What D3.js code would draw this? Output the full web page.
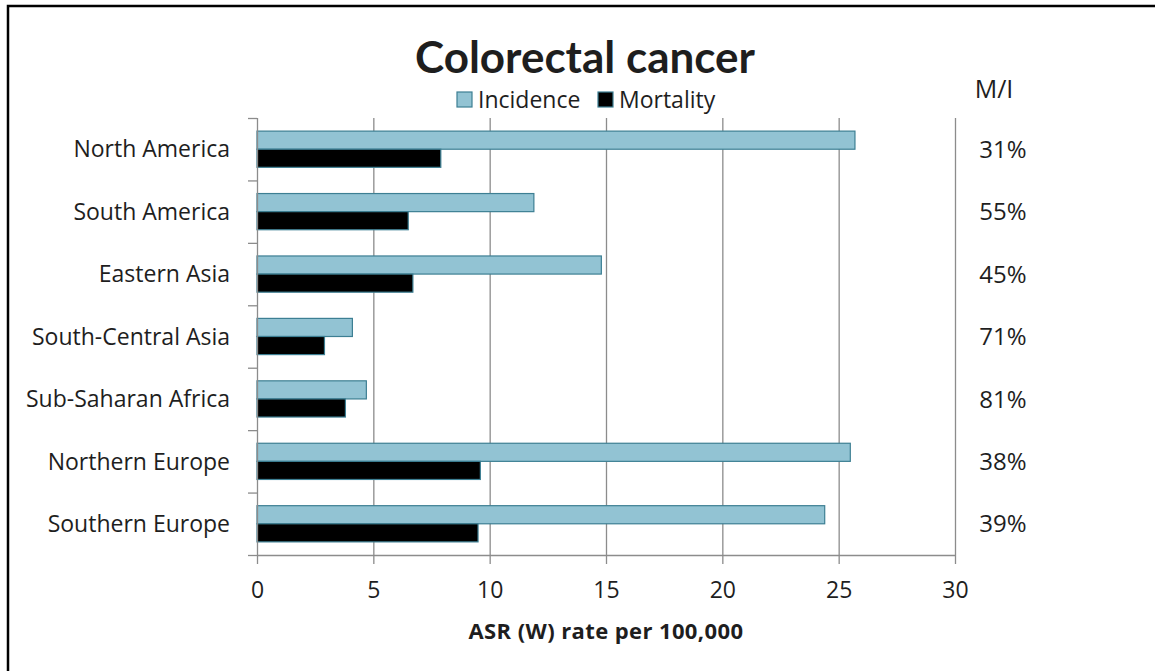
<!DOCTYPE html>
<html><head><meta charset="utf-8">
<script src="https://cdn.jsdelivr.net/npm/d3@7"></script>
<style>body{margin:0;background:#fff}svg{display:block}text{font-family:"Open Sans",Lato,sans-serif;fill:#1e1e1e}</style>
</head><body><svg id="c" width="1155" height="671"></svg>
<script>
const categories = ["North America","South America","Eastern Asia","South-Central Asia","Sub-Saharan Africa","Northern Europe","Southern Europe"];
const incidence = [25.7, 11.9, 14.8, 4.1, 4.7, 25.5, 24.4];
const mortality = [7.9, 6.5, 6.7, 2.9, 3.8, 9.6, 9.5];
const ratioLabels = ["31%","55%","45%","71%","81%","38%","39%"];
const xTicks = [0,5,10,15,20,25,30];
const seriesNames = ["Incidence","Mortality"];
const colors = ["#92c3d3","#000000"];

const svg = d3.select("#c");
const L = 257, R = 955, T = 118, B = 555;
const x = d3.scaleLinear().domain([0,30]).range([L,R]);
const y = d3.scaleBand().domain(categories).range([T,B]).paddingInner(0.42).paddingOuter(0.21);
const sub = d3.scaleBand().domain(seriesNames).range([0,y.bandwidth()]);

// border
svg.append("rect").attr("x",8).attr("y",6).attr("width",1170).attr("height",700)
  .attr("fill","none").attr("stroke","#000").attr("stroke-width",2.5);

// gridlines
svg.append("g").selectAll("line").data(xTicks.slice(1)).join("line")
  .attr("x1",d=>x(d)+0.5).attr("x2",d=>x(d)+0.5).attr("y1",T).attr("y2",B)
  .attr("stroke","#8c8c8c").attr("stroke-width",1.3);

// bars
const g = svg.append("g");
categories.forEach((c,i)=>{
  [incidence[i], mortality[i]].forEach((v,j)=>{
    g.append("rect").attr("x",x(0)).attr("y",y(c)+sub(seriesNames[j]))
      .attr("width",x(v)-x(0)).attr("height",sub.bandwidth())
      .attr("fill",colors[j]).attr("stroke","#3d7f93").attr("stroke-width",1.2);
  });
});

// x axis
const xa = svg.append("g").attr("transform",`translate(0,${B})`)
  .call(d3.axisBottom(x).tickValues(xTicks).tickSize(9).tickPadding(0));
xa.select(".domain").attr("stroke","#8c8c8c").attr("stroke-width",1.3).attr("d",`M${L},0.5H${R}`);
xa.selectAll(".tick line").attr("stroke","#8c8c8c").attr("stroke-width",1.3);
xa.selectAll(".tick text").attr("y",43).attr("dy",null).style("font-size","23px")
  .attr("fill","#1e1e1e").style("font-family","'Open Sans'");

// y axis (ticks at category boundaries)
const boundaries = d3.range(categories.length+1).map(i=>T+i*(B-T)/categories.length);
svg.append("line").attr("x1",L+0.5).attr("x2",L+0.5).attr("y1",T).attr("y2",B)
  .attr("stroke","#8c8c8c").attr("stroke-width",1.3);
svg.append("g").selectAll("line").data(boundaries).join("line")
  .attr("x1",L-9).attr("x2",L).attr("y1",d=>d+0.5).attr("y2",d=>d+0.5)
  .attr("stroke","#8c8c8c").attr("stroke-width",1.3);

// category labels
svg.append("g").selectAll("text").data(categories).join("text")
  .attr("x",230).attr("y",d=>y(d)+y.bandwidth()/2).attr("dy","0.36em")
  .attr("text-anchor","end").style("font-size","23px").text(d=>d);

// M/I
svg.append("text").attr("x",994).attr("y",98).attr("text-anchor","middle").style("font-size","25px").text("M/I");
svg.append("g").selectAll("text").data(categories).join("text")
  .attr("x",1003).attr("y",d=>y(d)+y.bandwidth()/2).attr("dy","0.36em")
  .attr("text-anchor","middle").style("font-size","24px").text((d,i)=>ratioLabels[i]);

// title
svg.append("text").attr("x",585).attr("y",73).attr("text-anchor","middle")
  .style("font-family","Lato").style("font-size","44px").style("font-weight","bold").attr("fill","#000").text("Colorectal cancer");

// legend
const leg = [{n:"Incidence",c:colors[0],x:457},{n:"Mortality",c:colors[1],x:598}];
leg.forEach(d=>{
  svg.append("rect").attr("x",d.x).attr("y",92).attr("width",15).attr("height",15)
    .attr("fill",d.c).attr("stroke","#3d7f93").attr("stroke-width",1.2);
  svg.append("text").attr("x",d.x+21).attr("y",108).style("font-size","23px").text(d.n);
});

// axis title
svg.append("text").attr("x",606).attr("y",639).attr("text-anchor","middle")
  .style("font-size","22px").style("font-weight","bold").style("letter-spacing","0.4px")
  .attr("fill","#000").text("ASR (W) rate per 100,000");
</script></body></html>
